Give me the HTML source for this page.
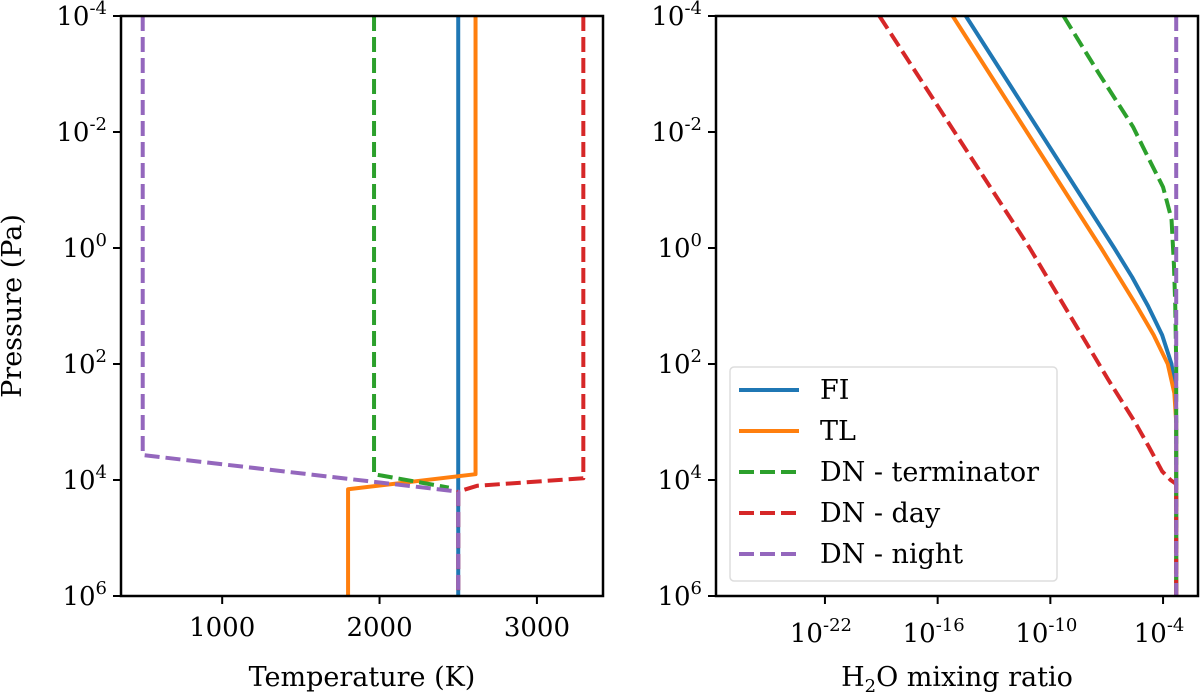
<!DOCTYPE html>
<html><head><meta charset="utf-8"><style>
html,body{margin:0;padding:0;background:#fff;}
svg{display:block;font-family:"DejaVu Serif","Liberation Serif",serif;}
</style></head><body>
<svg id="fig" width="1200" height="694" viewBox="0 0 1200 694" xmlns="http://www.w3.org/2000/svg"></svg>
<script>
// ---- data ----
const pressureRange = [-4, 6]; // log10 Pa, top to bottom
const tempRange = [357, 3420];
const mixRange = [-27.8, -2.14];
const tempTicks = [1000, 2000, 3000];
const mixTicks = [-22, -16, -10, -4];
const presTicks = [-4, -2, 0, 2, 4, 6];
const seriesNames = ["FI", "TL", "DN - terminator", "DN - day", "DN - night"];
// temperature profiles: [T, logP]
const tFI = [[2500,-4],[2500,6]];
const tTL = [[2610,-4],[2610,3.9],[1800,4.16],[1800,6]];
const tTerm = [[1965,-4],[1965,3.9],[2440,4.13]];
const tDay = [[3295,-4],[3295,3.97],[2620,4.1],[2500,4.2],[2500,6]];
const tNight = [[495,-4],[495,3.57],[2500,4.2],[2500,6]];
// H2O mixing ratio profiles: [log10 X, logP]
const mFI = [[-14.5,-4],[-6.6,0],[-5.65,0.5],[-4.8,1],[-4.05,1.5],[-3.55,2],[-3.35,2.5],[-3.3,3],[-3.3,6]];
const mTL = [[-15.2,-4],[-7.3,0],[-6.35,0.5],[-5.4,1],[-4.5,1.5],[-3.75,2],[-3.4,2.5],[-3.3,3],[-3.3,6]];
const mTerm = [[-9.3,-4],[-7.4,-3],[-5.6,-2.09],[-4.7,-1.5],[-4.0,-1.05],[-3.55,-0.5],[-3.42,0.3],[-3.35,1],[-3.3,2],[-3.3,6]];
const mDay = [[-19.1,-4],[-11.1,0],[-6.9,2.28],[-5.5,3.0],[-4.75,3.43],[-4.05,3.85],[-3.6,4.0],[-3.3,4.07],[-3.3,6]];
const mNight = [[-3.3,-4],[-3.3,6]];

const colors = ["#1f77b4","#ff7f0e","#2ca02c","#d62728","#9467bd"];
const dashed = [false,false,true,true,true];
const NS = "http://www.w3.org/2000/svg";
const svg = document.getElementById("fig");
function mk(tag, attrs, parent){const e=document.createElementNS(NS,tag);for(const k in attrs)e.setAttribute(k,attrs[k]);(parent||svg).appendChild(e);return e;}

const yTop = 16, yBot = 596;
function yP(lp){return yTop + (lp - pressureRange[0])/(pressureRange[1]-pressureRange[0])*(yBot-yTop);}
const L = {x0:121, x1:603}, R = {x0:716, x1:1198};
function xT(t){return L.x0 + (t-tempRange[0])/(tempRange[1]-tempRange[0])*(L.x1-L.x0);}
function xM(m){return R.x0 + (m-mixRange[0])/(mixRange[1]-mixRange[0])*(R.x1-R.x0);}

const defs = mk("defs",{});
function clip(id, p){const d=mk("clipPath",{id:id},defs);mk("rect",{x:p.x0,y:yTop,width:p.x1-p.x0,height:yBot-yTop},d);}
clip("cl",L); clip("cr",R);

function drawLine(pts, fx, i, g, name){
  const d = pts.map((p,k)=>(k?"L":"M")+fx(p[0]).toFixed(2)+","+yP(p[1]).toFixed(2)).join(" ");
  const e = mk("path",{d:d,fill:"none",stroke:colors[i],"stroke-width":4,"stroke-linejoin":"round"},g);
  if(dashed[i]) e.setAttribute("stroke-dasharray","15,6");
  
  
}
const gl = mk("g",{"clip-path":"url(#cl)"});


[tFI,tTL,tTerm,tDay,tNight].forEach((s,i)=>drawLine(s,xT,i,gl,"temp-line-"+seriesNames[i].toLowerCase().replace(/[^a-z]+/g,"-")));
const gr = mk("g",{"clip-path":"url(#cr)"});


[mFI,mTL,mTerm,mDay,mNight].forEach((s,i)=>drawLine(s,xM,i,gr,"h2o-line-"+seriesNames[i].toLowerCase().replace(/[^a-z]+/g,"-")));

function frame(p,name){const r=mk("rect",{x:p.x0,y:yTop,width:p.x1-p.x0,height:yBot-yTop,fill:"none",stroke:"#000","stroke-width":2.5});
  }
frame(L,"left-axes-frame"); frame(R,"right-axes-frame");

function yTicks(p, side){
  presTicks.forEach(v=>{
    const y=yP(v);
    mk("line",{x1:p.x0-8,x2:p.x0,y1:y,y2:y,stroke:"#000","stroke-width":2});
    const t=mk("text",{x:p.x0-14,y:y+9,"text-anchor":"end","font-size":26,fill:"#000"});
    
    
    t.appendChild(document.createTextNode("10"));
    const s=mk("tspan",{dy:-11,"font-size":18},t); s.textContent=String(v);
  });
}
yTicks(L,"left"); yTicks(R,"right");
tempTicks.forEach(v=>{
  const x=xT(v);
  mk("line",{x1:x,x2:x,y1:yBot,y2:yBot+8,stroke:"#000","stroke-width":2});
  const t=mk("text",{x:x,y:yBot+40,"text-anchor":"middle","font-size":26});
  
  
  t.textContent=String(v);
});
mixTicks.forEach(v=>{
  const x=xM(v);
  mk("line",{x1:x,x2:x,y1:yBot,y2:yBot+8,stroke:"#000","stroke-width":2});
  const t=mk("text",{x:x-4,y:yBot+46,"text-anchor":"middle","font-size":26});
  
  
  t.appendChild(document.createTextNode("10"));
  const s=mk("tspan",{dy:-11,"font-size":18},t); s.textContent=String(v);
});

const xt=mk("text",{x:362,y:686,"text-anchor":"middle","font-size":27});


xt.textContent="Temperature (K)";
const yt=mk("text",{x:0,y:0,"text-anchor":"middle","font-size":27,transform:"translate(21,306) rotate(-90)"});


yt.textContent="Pressure (Pa)";
const ht=mk("text",{x:957,y:686,"text-anchor":"middle","font-size":27});


ht.appendChild(document.createTextNode("H"));
const sub=mk("tspan",{dy:6,"font-size":18},ht); sub.textContent="2";
const rest=mk("tspan",{dy:-6},ht); rest.textContent="O mixing ratio";
// legend
const lg=mk("g",{});


mk("rect",{x:730,y:367,width:327,height:214,rx:4,fill:"#fff","fill-opacity":0.85,stroke:"#ddd","stroke-width":1.5},lg);
seriesNames.forEach((n,i)=>{
  const y=390+i*41;
  const g=mk("g",{},lg);
  
  
  const l=mk("line",{x1:739,x2:799,y1:y,y2:y,stroke:colors[i],"stroke-width":4},g);
  if(dashed[i]) l.setAttribute("stroke-dasharray","15,6");
  const t=mk("text",{x:820,y:y+9,"font-size":27},g); t.textContent=n;
});
</script>
</body></html>
